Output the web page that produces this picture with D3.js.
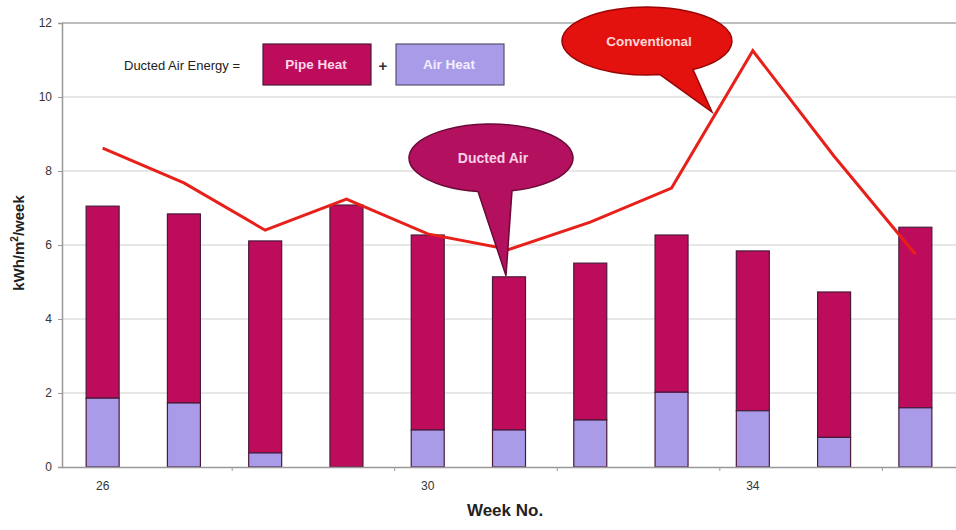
<!DOCTYPE html>
<html>
<head>
<meta charset="utf-8">
<script src="https://cdn.jsdelivr.net/npm/d3@7"></script>
<style>
  html, body { margin: 0; padding: 0; background: #fff; }
  svg { display: block; font-family: Arial, "Liberation Sans", sans-serif; }
</style>
</head>
<body>
<svg id="chart" width="956" height="530"></svg>
<script>
// ---- data ----
const weeks = [26, 27, 28, 29, 30, 31, 32, 33, 34, 35, 36];
const airHeat = [1.86, 1.73, 0.38, 0.0, 1.0, 1.0, 1.27, 2.02, 1.52, 0.8, 1.6];
const ductedTotal = [7.05, 6.84, 6.11, 7.08, 6.27, 5.14, 5.51, 6.27, 5.84, 4.73, 6.48];
const pipeHeat = ductedTotal.map((t, i) => +(t - airHeat[i]).toFixed(2));
const conventional = [8.62, 7.68, 6.4, 7.24, 6.3, 5.88, 6.62, 7.54, 11.25, 8.4, 5.75];
const yTicks = [0, 2, 4, 6, 8, 10, 12];
const xLabelWeeks = [26, 30, 34];
const xMinorTickAfter = [27, 29, 31, 33, 35];

// ---- layout ----
const svg = d3.select("#chart");
const plotL = 62, plotR = 956, plotT = 23, plotB = 467;

const x = d3.scaleBand().domain(weeks).range([plotL, plotR]).paddingInner(0.594).paddingOuter(0.297);
const y = d3.scaleLinear().domain([0, 12]).range([plotB, plotT]);

const colPipe = "#bd0c5c", colAir = "#a99be8", colStroke = "#4a1a3a", colLine = "#e8201a";

// gridlines
svg.append("g").selectAll("line").data(yTicks.filter(d => d > 0)).join("line")
  .attr("x1", plotL).attr("x2", plotR)
  .attr("y1", d => y(d)).attr("y2", d => y(d))
  .attr("stroke", d => d === 12 ? "#a8a8a8" : "#cfcfcf").attr("stroke-width", d => d === 12 ? 1.6 : 1);

// y axis
const yAxis = d3.axisLeft(y).tickValues(yTicks).tickSize(4).tickPadding(6);
const gy = svg.append("g").attr("transform", `translate(${plotL},0)`).call(yAxis);
gy.select(".domain").attr("stroke", "#999").attr("stroke-width", 1.5);
gy.selectAll(".tick line").attr("stroke", "#999");
gy.selectAll(".tick text").attr("font-size", 12).attr("fill", "#333").attr("font-family", "Arial, Liberation Sans, sans-serif");

// bars
const bars = svg.append("g");
bars.selectAll("rect.pipe").data(weeks).join("rect").attr("class", "pipe")
  .attr("x", d => x(d)).attr("width", x.bandwidth())
  .attr("y", (d, i) => y(ductedTotal[i]))
  .attr("height", (d, i) => y(airHeat[i]) - y(ductedTotal[i]))
  .attr("fill", colPipe).attr("stroke", colStroke).attr("stroke-width", 1.2);
bars.selectAll("rect.air").data(weeks.filter((d, i) => airHeat[i] > 0)).join("rect").attr("class", "air")
  .attr("x", d => x(d)).attr("width", x.bandwidth())
  .attr("y", d => y(airHeat[weeks.indexOf(d)]))
  .attr("height", d => y(0) - y(airHeat[weeks.indexOf(d)]))
  .attr("fill", colAir).attr("stroke", colStroke).attr("stroke-width", 1.2);

// x axis
const xAxis = d3.axisBottom(x).tickValues(xLabelWeeks).tickSize(0).tickPadding(14);
const gx = svg.append("g").attr("transform", `translate(0,${plotB})`).call(xAxis);
gx.select(".domain").attr("stroke", "#999").attr("stroke-width", 1.5);
gx.selectAll(".tick text").attr("font-size", 12).attr("fill", "#333").attr("font-family", "Arial, Liberation Sans, sans-serif");
svg.append("g").selectAll("line").data(xMinorTickAfter).join("line")
  .attr("x1", d => x(d) + x.step() * 0.797).attr("x2", d => x(d) + x.step() * 0.797)
  .attr("y1", plotB).attr("y2", plotB + 4).attr("stroke", "#999");

// conventional line
const line = d3.line().x((d, i) => x(weeks[i]) + x.bandwidth() / 2).y(d => y(d));
svg.append("path").datum(conventional).attr("d", line)
  .attr("fill", "none").attr("stroke", colLine).attr("stroke-width", 3).attr("stroke-linejoin", "miter");

// axis titles
svg.append("text").attr("x", 505).attr("y", 516).attr("text-anchor", "middle")
  .attr("font-size", 17).attr("font-weight", "bold").attr("fill", "#222").text("Week No.");
const yt = svg.append("text").attr("transform", "translate(24,243) rotate(-90)").attr("text-anchor", "middle")
  .attr("font-size", 15).attr("font-weight", "bold").attr("fill", "#222");
yt.append("tspan").text("kWh/m");
yt.append("tspan").attr("font-size", 10).attr("dy", -6).text("2");
yt.append("tspan").attr("dy", 6).text("/week");

// legend
svg.append("text").attr("x", 124).attr("y", 70).attr("font-size", 13).attr("fill", "#222").text("Ducted Air Energy =");
svg.append("rect").attr("x", 263).attr("y", 44).attr("width", 108).attr("height", 41)
  .attr("fill", colPipe).attr("stroke", colStroke).attr("stroke-width", 1.2);
svg.append("text").attr("x", 316).attr("y", 69).attr("text-anchor", "middle").attr("font-size", 13.5)
  .attr("font-weight", "bold").attr("fill", "#ffd6ea").text("Pipe Heat");
svg.append("text").attr("x", 383).attr("y", 71).attr("text-anchor", "middle").attr("font-size", 15)
  .attr("font-weight", "bold").attr("fill", "#333").text("+");
svg.append("rect").attr("x", 396).attr("y", 44).attr("width", 108).attr("height", 41)
  .attr("fill", colAir).attr("stroke", "#5a5070").attr("stroke-width", 1.2);
svg.append("text").attr("x", 449).attr("y", 69).attr("text-anchor", "middle").attr("font-size", 13.5)
  .attr("font-weight", "bold").attr("fill", "#f2eeff").text("Air Heat");

// callout bubbles
function bubble(cx, cy, rx, ry, xa, xb, tipX, tipY, fill, stroke, label, tcol, fs) {
  const ya = cy + ry * Math.sqrt(1 - Math.pow((xa - cx) / rx, 2));
  const yb = cy + ry * Math.sqrt(1 - Math.pow((xb - cx) / rx, 2));
  const p = `M${xb},${yb} A${rx},${ry} 0 1 0 ${xa},${ya} L${tipX},${tipY} Z`;
  svg.append("path").attr("d", p).attr("fill", fill).attr("stroke", stroke).attr("stroke-width", 1.5);
  svg.append("text").attr("x", cx + 2).attr("y", cy + 5).attr("text-anchor", "middle")
    .attr("font-size", fs).attr("font-weight", "bold").attr("fill", tcol).text(label);
}
bubble(491, 158, 82, 34, 478, 512, x(31) + x.bandwidth() / 2 - 3, y(ductedTotal[5]) - 1,
  "#b3105f", "#6a0a38", "Ducted Air", "#f8d0e6", 14);
bubble(647, 41, 85, 34, 660, 693, 712, 112,
  "#e3120f", "#9a0505", "Conventional", "#ffd8d8", 13.5);
</script>
</body>
</html>
